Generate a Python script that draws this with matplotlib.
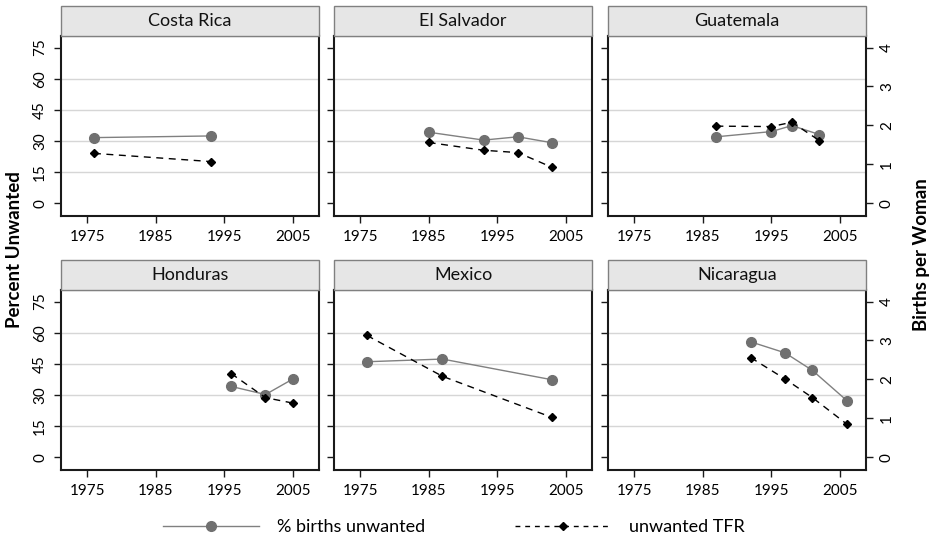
import numpy as np
import matplotlib.pyplot as plt
from matplotlib.patches import Rectangle
from matplotlib.lines import Line2D

plt.rcParams['font.family'] = ['Lato', 'DejaVu Sans']

countries = ['Costa Rica', 'El Salvador', 'Guatemala', 'Honduras', 'Mexico', 'Nicaragua']
survey_years = [[1976, 1993],
                [1985, 1993, 1998, 2003],
                [1987, 1995, 1998, 2002],
                [1996, 2001, 2005],
                [1976, 1987, 2003],
                [1992, 1997, 2001, 2006]]
pct_unwanted = [[31.6, 32.4],
                [34.2, 30.4, 32.0, 29.1],
                [32.0, 34.5, 37.4, 33.1],
                [34.1, 30.2, 37.7],
                [46.0, 47.3, 37.3],
                [55.6, 50.3, 41.8, 27.3]]
unwanted_tfr = [[1.28, 1.07],
                [1.56, 1.36, 1.30, 0.92],
                [1.98, 1.97, 2.08, 1.61],
                [2.15, 1.53, 1.39],
                [3.13, 2.08, 1.02],
                [2.56, 2.01, 1.53, 0.85]]

xticks = [1975, 1985, 1995, 2005]
pct_ticks = [0, 15, 30, 45, 60, 75]
tfr_ticks = [0, 1, 2, 3, 4]
grid_vals = [15, 30, 45, 60]

W, H = 939, 539
col_left = [61, 334, 608]
row_top = [36, 290]
pw, ph = 258, 180
ylo, yhi = -6.2, 80.6
scale = 75 / 4.0  # 4 births per woman sits level with 75%

fig = plt.figure(figsize=(W / 100, H / 100), dpi=100)

for i, name in enumerate(countries):
    r, c = divmod(i, 3)
    ax = fig.add_axes([col_left[c] / W, 1 - (row_top[r] + ph) / H, pw / W, ph / H])
    ax.set_xlim(1971.2, 2008.8)
    ax.set_ylim(ylo, yhi)
    ax.set_xticks(xticks)
    ax.set_yticks(pct_ticks)
    for g in grid_vals:
        ax.axhline(g, color='#d6d6d6', lw=1, zorder=0)
    ax.plot(survey_years[i], pct_unwanted[i], color='#808080', lw=1,
            marker='o', ms=7, mfc='#707070', mec='#707070', zorder=3)
    for s in ax.spines.values():
        s.set_linewidth(1.5)
        s.set_color('#1a1a1a')
    ax.tick_params(axis='both', direction='out', length=5, width=1,
                   labelsize=11, color='#1a1a1a', pad=5)
    ax.tick_params(axis='y', labelrotation=90)
    for lab in ax.get_yticklabels():
        lab.set_va('center')
    if c != 0:
        ax.tick_params(axis='y', left=False, labelleft=False)

    ax2 = ax.twinx()
    ax2.set_ylim(ylo / scale, yhi / scale)
    ax2.set_yticks(tfr_ticks)
    ax2.plot(survey_years[i], unwanted_tfr[i], color='black', lw=1,
             ls=(0, (5, 4)), marker='D', ms=4.3, zorder=4)
    for s in ax2.spines.values():
        s.set_visible(False)
    ax2.tick_params(axis='y', direction='out', length=5, width=1,
                    labelsize=11, color='#1a1a1a', pad=5, labelrotation=90)
    for lab in ax2.get_yticklabels():
        lab.set_va('center')
    if c != 2:
        ax2.tick_params(axis='y', right=False, labelright=False)

    sh = 30 / ph
    ax.add_patch(Rectangle((0, 1), 1, sh, transform=ax.transAxes, clip_on=False,
                           facecolor='#e6e6e6', edgecolor='#808080', lw=1, zorder=5))
    ax.text(0.5, 1 + sh / 2, name, transform=ax.transAxes, ha='center', va='center',
            fontsize=13, color='#111111', zorder=6)

fig.text(15 / W, 1 - 250 / H, 'Percent Unwanted', rotation=90, ha='center', va='center',
         fontsize=13.5, fontweight='bold')
fig.text(922 / W, 1 - 255 / H, 'Births per Woman', rotation=90, ha='center', va='center',
         fontsize=13.5, fontweight='bold')

handles = [Line2D([], [], color='#808080', lw=1, marker='o', ms=7,
                  mfc='#707070', mec='#707070'),
           Line2D([], [], color='black', lw=1, ls=(0, (3.5, 3.5)), marker='D', ms=4.3)]
fig.legend(handles, ['% births unwanted', 'unwanted TFR'], loc='center',
           bbox_to_anchor=(454 / W, 1 - 527 / H), ncol=2, frameon=False, fontsize=13,
           handlelength=5.3, handletextpad=1.0, columnspacing=5.0)

fig.savefig('out.png', dpi=100)
